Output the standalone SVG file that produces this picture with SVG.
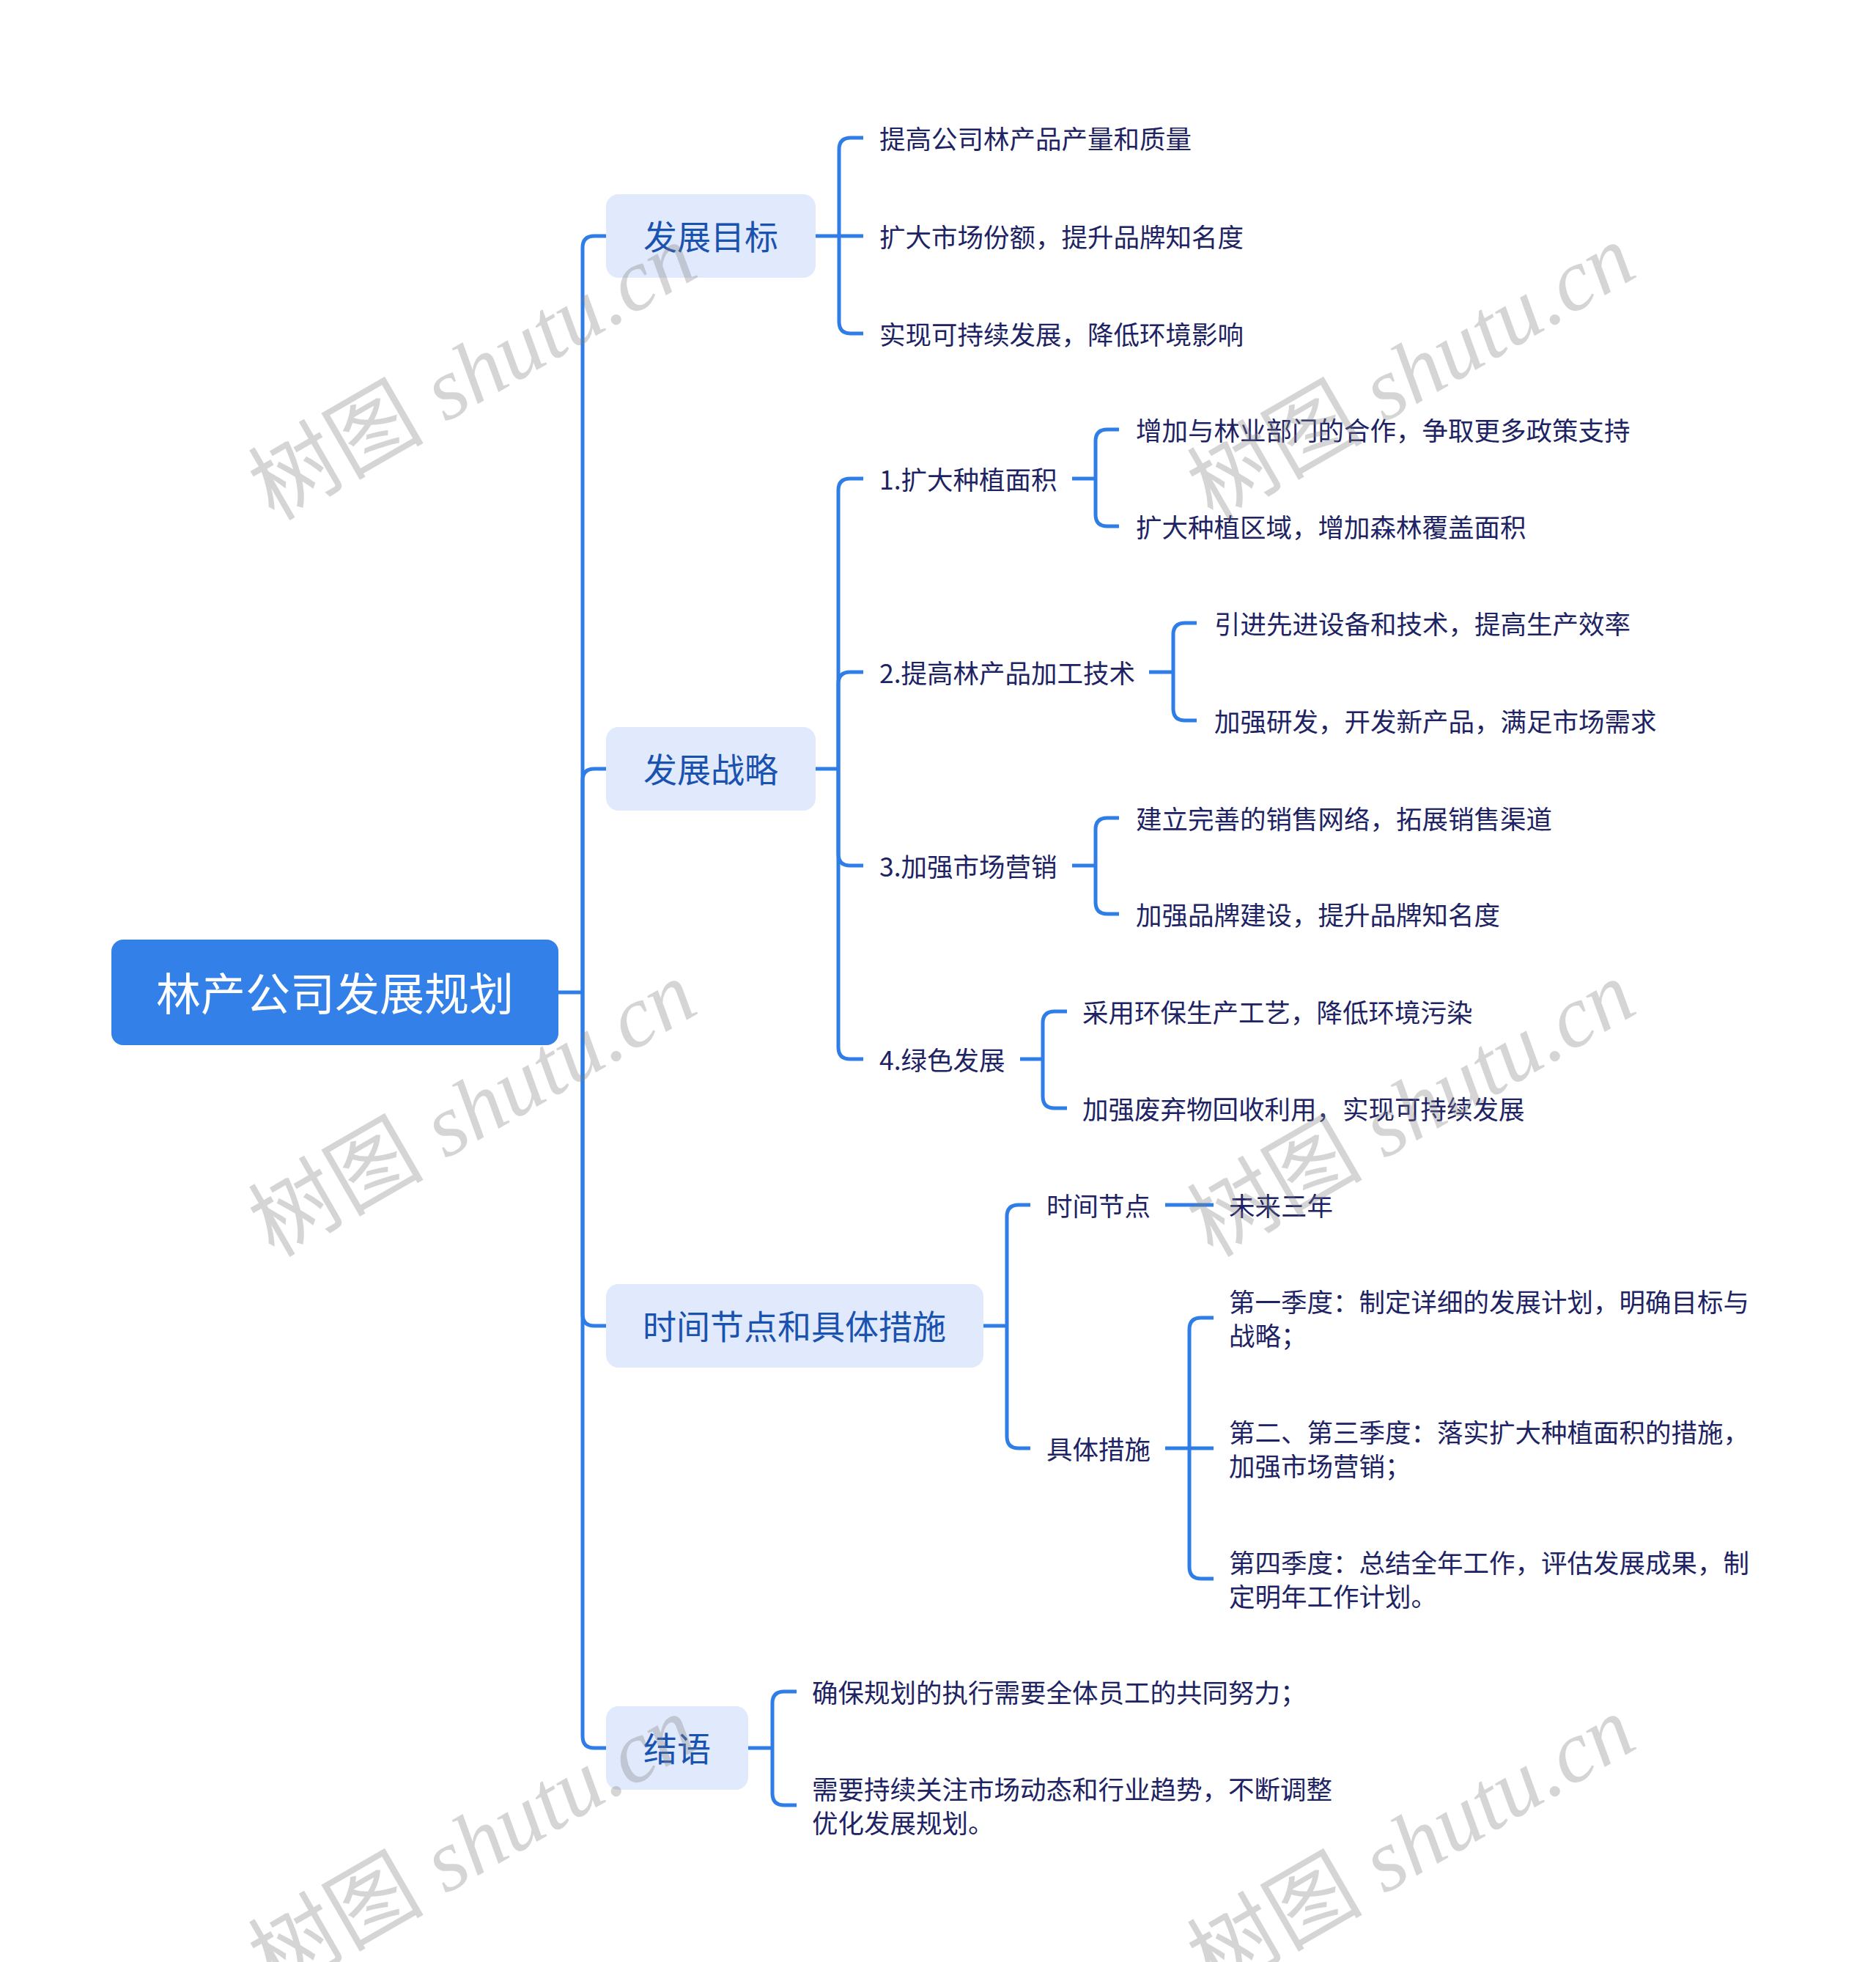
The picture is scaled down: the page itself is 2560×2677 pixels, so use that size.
<svg xmlns="http://www.w3.org/2000/svg" width="2560" height="2677" viewBox="0 0 2560 2677">
<style>
.bg{fill:#ffffff}
.ln{fill:none;stroke:#2f7de6;stroke-width:5;stroke-linecap:butt;stroke-linejoin:round}
.root{fill:#3280e8}
.rt{fill:#ffffff;font-family:"Noto Sans CJK SC","Noto Sans",sans-serif;font-size:61px;text-anchor:middle;dominant-baseline:central}
.l1{fill:#e1e9fc}
.l1t{fill:#1a52b0;font-family:"Noto Sans CJK SC","Noto Sans",sans-serif;font-size:46px;text-anchor:middle;dominant-baseline:central}
.t{fill:#1e2364;font-family:"Noto Sans CJK SC","Noto Sans",sans-serif;font-size:35.5px;dominant-baseline:central}
.wm{fill:#808080;fill-opacity:0.33;font-family:"Liberation Serif","Noto Sans CJK SC",serif;font-size:120px;text-anchor:middle;dominant-baseline:central}
.wm tspan.i{font-style:italic}
</style>
<rect class="bg" x="0" y="0" width="2560" height="2677"/>

<g id="connectors">
  <path class="ln" d="M762 1354 H795"/>
  <path class="ln" d="M795 1354 V338 Q795 322 811 322 H827"/>
  <path class="ln" d="M795 1354 V1065 Q795 1049 811 1049 H827"/>
  <path class="ln" d="M795 1354 V1793 Q795 1809 811 1809 H827"/>
  <path class="ln" d="M795 1354 V2369 Q795 2385 811 2385 H827"/>
  <path class="ln" d="M1113 322 H1145"/>
  <path class="ln" d="M1145 322 V204 Q1145 188 1161 188 H1178"/>
  <path class="ln" d="M1145 322 H1178"/>
  <path class="ln" d="M1145 322 V439 Q1145 455 1161 455 H1178"/>
  <path class="ln" d="M1113 1049 H1144"/>
  <path class="ln" d="M1144 1049 V669 Q1144 653 1160 653 H1178"/>
  <path class="ln" d="M1144 1049 V933 Q1144 917 1160 917 H1178"/>
  <path class="ln" d="M1144 1049 V1165 Q1144 1181 1160 1181 H1178"/>
  <path class="ln" d="M1144 1049 V1429 Q1144 1445 1160 1445 H1178"/>
  <path class="ln" d="M1463 653 H1495"/>
  <path class="ln" d="M1495 653 V602 Q1495 586 1511 586 H1527"/>
  <path class="ln" d="M1495 653 V702 Q1495 718 1511 718 H1527"/>
  <path class="ln" d="M1568 917 H1601"/>
  <path class="ln" d="M1601 917 V866 Q1601 850 1617 850 H1633"/>
  <path class="ln" d="M1601 917 V967 Q1601 983 1617 983 H1633"/>
  <path class="ln" d="M1463 1181 H1495"/>
  <path class="ln" d="M1495 1181 V1132 Q1495 1116 1511 1116 H1527"/>
  <path class="ln" d="M1495 1181 V1231 Q1495 1247 1511 1247 H1527"/>
  <path class="ln" d="M1392 1445 H1423"/>
  <path class="ln" d="M1423 1445 V1396 Q1423 1380 1439 1380 H1456"/>
  <path class="ln" d="M1423 1445 V1496 Q1423 1512 1439 1512 H1456"/>
  <path class="ln" d="M1342 1809 H1374"/>
  <path class="ln" d="M1374 1809 V1660 Q1374 1644 1390 1644 H1406"/>
  <path class="ln" d="M1374 1809 V1960 Q1374 1976 1390 1976 H1406"/>
  <path class="ln" d="M1590 1644 H1656"/>
  <path class="ln" d="M1590 1976 H1623"/>
  <path class="ln" d="M1623 1976 V1814 Q1623 1798 1639 1798 H1656"/>
  <path class="ln" d="M1623 1976 H1656"/>
  <path class="ln" d="M1623 1976 V2138 Q1623 2154 1639 2154 H1656"/>
  <path class="ln" d="M1021 2385 H1054"/>
  <path class="ln" d="M1054 2385 V2324 Q1054 2308 1070 2308 H1087"/>
  <path class="ln" d="M1054 2385 V2447 Q1054 2463 1070 2463 H1087"/>
</g>

<g id="node-root">
  <rect class="root" x="152" y="1282" width="610" height="144" rx="16"/>
  <text class="rt" x="457" y="1352">林产公司发展规划</text>
</g>

<g id="node-goal">
  <rect class="l1" x="827" y="265" width="286" height="114" rx="17"/>
  <text class="l1t" x="970" y="320">发展目标</text>
</g>
<g id="node-goal-1"><text class="t" x="1200" y="187">提高公司林产品产量和质量</text></g>
<g id="node-goal-2"><text class="t" x="1200" y="321">扩大市场份额，提升品牌知名度</text></g>
<g id="node-goal-3"><text class="t" x="1200" y="454">实现可持续发展，降低环境影响</text></g>

<g id="node-strategy">
  <rect class="l1" x="827" y="992" width="286" height="114" rx="17"/>
  <text class="l1t" x="970" y="1047">发展战略</text>
</g>
<g id="node-s1"><text class="t" x="1200" y="652">1.扩大种植面积</text></g>
<g id="node-s1a"><text class="t" x="1550" y="585">增加与林业部门的合作，争取更多政策支持</text></g>
<g id="node-s1b"><text class="t" x="1550" y="717">扩大种植区域，增加森林覆盖面积</text></g>
<g id="node-s2"><text class="t" x="1200" y="916">2.提高林产品加工技术</text></g>
<g id="node-s2a"><text class="t" x="1657" y="849">引进先进设备和技术，提高生产效率</text></g>
<g id="node-s2b"><text class="t" x="1657" y="982">加强研发，开发新产品，满足市场需求</text></g>
<g id="node-s3"><text class="t" x="1200" y="1180">3.加强市场营销</text></g>
<g id="node-s3a"><text class="t" x="1550" y="1115">建立完善的销售网络，拓展销售渠道</text></g>
<g id="node-s3b"><text class="t" x="1550" y="1246">加强品牌建设，提升品牌知名度</text></g>
<g id="node-s4"><text class="t" x="1200" y="1444">4.绿色发展</text></g>
<g id="node-s4a"><text class="t" x="1477" y="1379">采用环保生产工艺，降低环境污染</text></g>
<g id="node-s4b"><text class="t" x="1477" y="1511">加强废弃物回收利用，实现可持续发展</text></g>

<g id="node-time">
  <rect class="l1" x="827" y="1752" width="515" height="114" rx="17"/>
  <text class="l1t" x="1084" y="1807">时间节点和具体措施</text>
</g>
<g id="node-t1"><text class="t" x="1428" y="1643">时间节点</text></g>
<g id="node-t1a"><text class="t" x="1677" y="1643">未来三年</text></g>
<g id="node-t2"><text class="t" x="1428" y="1975">具体措施</text></g>
<g id="node-t2a"><text class="t" x="1677" y="1774">第一季度：制定详细的发展计划，明确目标与<tspan x="1677" dy="46">战略；</tspan></text></g>
<g id="node-t2b"><text class="t" x="1677" y="1952">第二、第三季度：落实扩大种植面积的措施，<tspan x="1677" dy="46">加强市场营销；</tspan></text></g>
<g id="node-t2c"><text class="t" x="1677" y="2130">第四季度：总结全年工作，评估发展成果，制<tspan x="1677" dy="46">定明年工作计划。</tspan></text></g>

<g id="node-end">
  <rect class="l1" x="827" y="2328" width="194" height="114" rx="17"/>
  <text class="l1t" x="924" y="2383">结语</text>
</g>
<g id="node-e1"><text class="t" x="1108" y="2307">确保规划的执行需要全体员工的共同努力；</text></g>
<g id="node-e2"><text class="t" x="1108" y="2439">需要持续关注市场动态和行业趋势，不断调整<tspan x="1108" dy="46">优化发展规划。</tspan></text></g>

<g id="watermarks">
  <text class="wm" transform="translate(645 508) rotate(-30)">树图 <tspan class="i">shutu.cn</tspan></text>
  <text class="wm" transform="translate(1926 508) rotate(-30)">树图 <tspan class="i">shutu.cn</tspan></text>
  <text class="wm" transform="translate(645 1513) rotate(-30)">树图 <tspan class="i">shutu.cn</tspan></text>
  <text class="wm" transform="translate(1926 1513) rotate(-30)">树图 <tspan class="i">shutu.cn</tspan></text>
  <text class="wm" transform="translate(645 2516) rotate(-30)">树图 <tspan class="i">shutu.cn</tspan></text>
  <text class="wm" transform="translate(1926 2516) rotate(-30)">树图 <tspan class="i">shutu.cn</tspan></text>
</g>
</svg>
